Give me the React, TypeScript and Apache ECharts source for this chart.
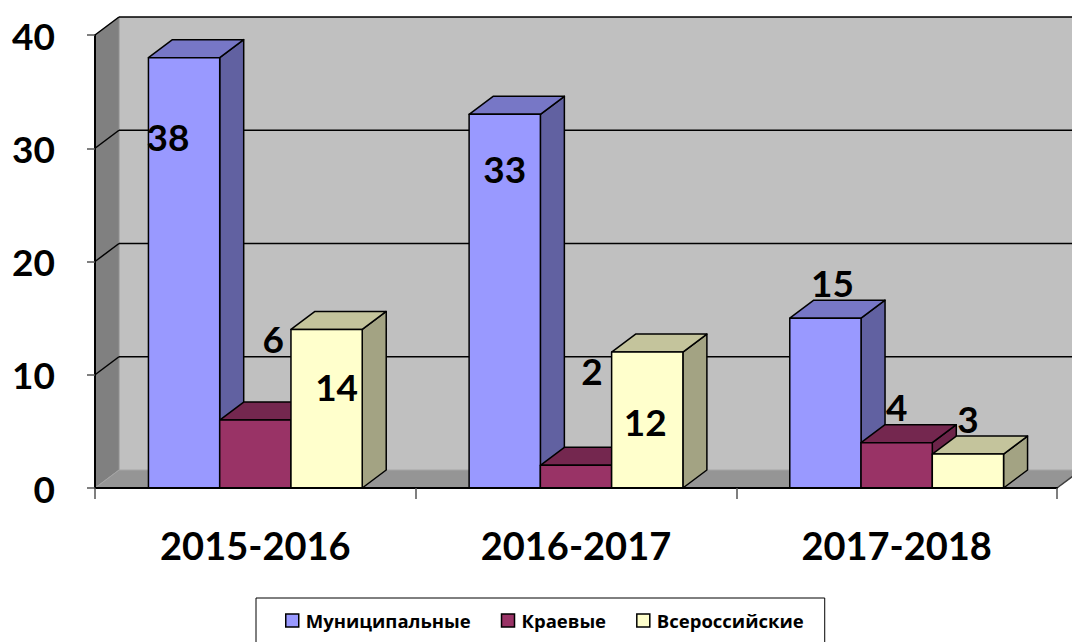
import React, { useEffect, useRef } from "react";
import * as echarts from "echarts";

const CATEGORIES = ["2015-2016", "2016-2017", "2017-2018"];
const SERIES_NAMES = ["Муниципальные", "Краевые", "Всероссийские"];
const MUNICIPAL = [38, 33, 15];
const REGIONAL = [6, 2, 4];
const NATIONAL = [14, 12, 3];
const Y_TICKS = [0, 10, 20, 30, 40];

// styling: face colours per series [front, top, side]
const FACE_COLORS = [
  ["#9999FF", "#7777C6", "#6161A1"],
  ["#993366", "#74274F", "#6C2449"],
  ["#FFFFCC", "#C4C49C", "#A3A383"],
];
// label nudges relative to the bar's front-top centre [dx, dy], per series per category
const LABEL_NUDGE = [
  [[-16, 79], [0, 54], [7, -36]],
  [[18, -82], [16, -95], [0, -36]],
  [[10, 57], [-2, 69], [0, -36]],
];
const DEPTH_X = 24;
const DEPTH_Y = -18;
const FONT = "Lato, 'Noto Sans', 'DejaVu Sans', sans-serif";
const LEGEND_FONT = "'Open Sans', 'Noto Sans', sans-serif";

export default function App() {
  const ref = useRef<HTMLDivElement>(null);
  useEffect(() => {
    if (!ref.current) return;
    const chart = echarts.init(ref.current, undefined, { renderer: "svg" });
    const seriesValues = [MUNICIPAL, REGIONAL, NATIONAL];

    const wallsSeries: any = {
      type: "custom",
      name: "walls",
      z: 1,
      silent: true,
      data: [[0, 0]],
      renderItem: (params: any, api: any) => {
        const cs = params.coordSys;
        const x = cs.x, y = cs.y, w = cs.width, h = cs.height;
        const dx = DEPTH_X, dy = DEPTH_Y;
        const children: any[] = [];
        children.push({
          type: "polygon",
          shape: { points: [[x + dx, y + dy], [x + w + dx, y + dy], [x + w + dx, y + h + dy], [x + dx, y + h + dy]] },
          style: { fill: "#C0C0C0", stroke: "none" },
        });
        children.push({
          type: "polygon",
          shape: { points: [[x, y], [x + dx, y + dy], [x + dx, y + h + dy], [x, y + h]] },
          style: { fill: "#808080", stroke: "#909090", lineWidth: 1 },
        });
        children.push({
          type: "polygon",
          shape: { points: [[x, y + h], [x + dx, y + h + dy], [x + w + dx, y + h + dy], [x + w, y + h]] },
          style: { fill: "#959595", stroke: "#A6A6A6", lineWidth: 1 },
        });
        children.push({
          type: "line",
          shape: { x1: x + w, y1: y + h, x2: x + w + dx, y2: y + h + dy },
          style: { stroke: "#404040", lineWidth: 1.5 },
        });
        Y_TICKS.forEach((t) => {
          if (t === 0) return;
          const yy = api.coord([0, t])[1];
          children.push({
            type: "line",
            shape: { x1: x + dx, y1: yy + dy, x2: x + w + dx, y2: yy + dy },
            style: { stroke: "#000", lineWidth: 1.5 },
          });
          children.push({
            type: "line",
            shape: { x1: x, y1: yy, x2: x + dx, y2: yy + dy },
            style: { stroke: "#000", lineWidth: 1.5 },
          });
        });
        return { type: "group", children };
      },
    };

    const barSeries = SERIES_NAMES.map((name, si) => ({
      type: "custom",
      name,
      z: 2,
      itemStyle: { color: FACE_COLORS[si][0], borderColor: "#000", borderWidth: 1 },
      data: seriesValues[si].map((v, ci) => [ci, v]),
      renderItem: (params: any, api: any) => {
        const cat = api.value(0);
        const val = api.value(1);
        const c = api.coord([cat, val]);
        const base = api.coord([cat, 0]);
        const band = api.size([1, 0])[0];
        const bw = band / 4.5;
        const left = c[0] - 1.5 * bw + si * bw;
        const right = left + bw;
        const top = c[1];
        const bottom = base[1];
        const dx = DEPTH_X, dy = DEPTH_Y;
        const [fFront, fTop, fSide] = FACE_COLORS[si];
        const stroke = { stroke: "#000", lineWidth: 1.5, lineJoin: "round" };
        const nudge = LABEL_NUDGE[si][cat];
        return {
          type: "group",
          children: [
            {
              type: "polygon",
              shape: { points: [[right, top], [right + dx, top + dy], [right + dx, bottom + dy], [right, bottom]] },
              style: { fill: fSide, ...stroke },
            },
            {
              type: "polygon",
              shape: { points: [[left, top], [left + dx, top + dy], [right + dx, top + dy], [right, top]] },
              style: { fill: fTop, ...stroke },
            },
            {
              type: "rect",
              shape: { x: left, y: top, width: bw, height: bottom - top },
              style: { fill: fFront, ...stroke },
            },
            {
              type: "text",
              z2: 100,
              style: {
                text: String(val),
                x: left + bw / 2 + nudge[0],
                y: top + nudge[1],
                align: "center",
                verticalAlign: "middle",
                fill: "#000",
                fontSize: 37,
                fontWeight: "bold",
                fontFamily: FONT,
              },
            },
          ],
        };
      },
    }));

    chart.setOption({
      animation: false,
      backgroundColor: "#FFFFFF",
      grid: { left: 95, right: 15, top: 35, bottom: 154, containLabel: false },
      legend: {
        data: SERIES_NAMES,
        left: 256,
        top: 598,
        padding: [13, 21, 30, 29],
        borderColor: "#000",
        borderWidth: 1,
        itemWidth: 13,
        itemHeight: 13,
        itemGap: 30,
        icon: "rect",
        itemStyle: { borderColor: "#000", borderWidth: 1.5 },
        textStyle: { fontSize: 18.5, fontWeight: "bold", fontFamily: LEGEND_FONT, color: "#000", padding: [0, 0, 0, 2] },
      },
      xAxis: {
        type: "category",
        data: CATEGORIES,
        z: 3,
        axisLine: { show: true, lineStyle: { color: "#000", width: 2 } },
        axisTick: { show: true, length: 11, lineStyle: { color: "#555", width: 1.5 } },
        axisLabel: { fontSize: 38, fontWeight: "bold", fontFamily: FONT, color: "#000", margin: 38 },
        splitLine: { show: false },
      },
      yAxis: {
        type: "value",
        min: 0,
        max: 40,
        interval: 10,
        z: 3,
        axisLine: { show: true, lineStyle: { color: "#000", width: 2 } },
        axisTick: { show: true, length: 8, lineStyle: { color: "#555", width: 1.5 } },
        axisLabel: { fontSize: 37, fontWeight: "bold", fontFamily: FONT, color: "#000", margin: 40 },
        splitLine: { show: false },
      },
      series: [wallsSeries, ...barSeries],
    });
    return () => chart.dispose();
  }, []);
  return (
    <div
      ref={ref}
      style={{ position: "fixed", left: 0, top: 0, width: 1072, height: 642, background: "#fff" }}
    />
  );
}
